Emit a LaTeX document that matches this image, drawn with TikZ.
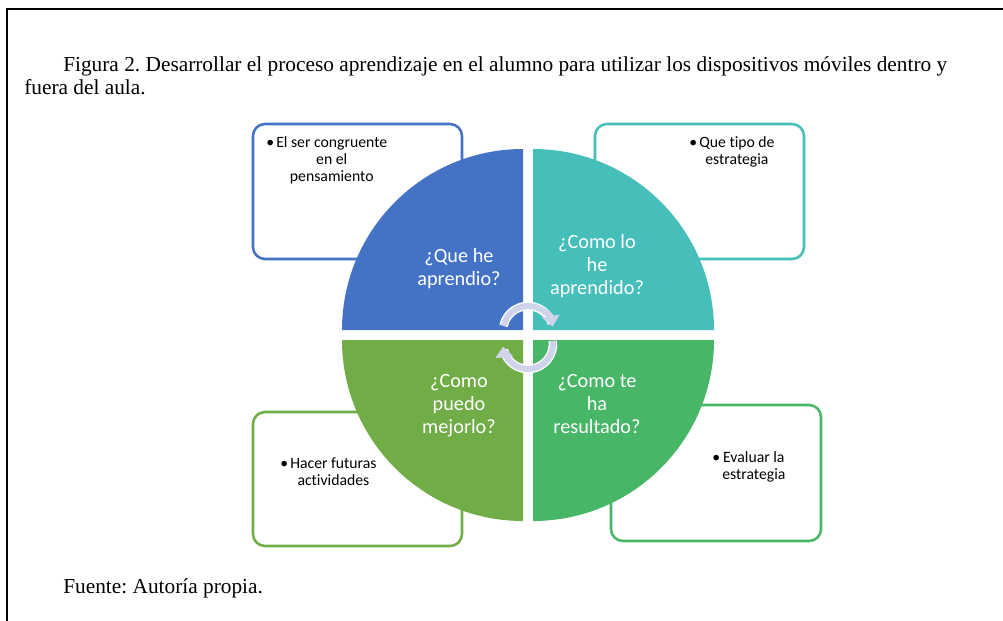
\documentclass[tikz,border=0pt]{standalone}
\usepackage{fontspec}
\setmainfont{Liberation Serif}
\newfontfamily\calfont[Ligatures=NoCommon]{Carlito}
\usetikzlibrary{arrows.meta}

\definecolor{qblue}{HTML}{4472C4}
\definecolor{qteal}{HTML}{46BFBA}
\definecolor{qgreen}{HTML}{70AD47}
\definecolor{qmint}{HTML}{47B666}
\definecolor{cycc}{HTML}{CFD4EA}

\newcommand{\qlines}[1]{\begin{tabular}[t]{@{}c@{}}#1\end{tabular}}
\newcommand{\bul}{\makebox[7.5pt][l]{\textbullet}}

\begin{document}
\frenchspacing
\begin{tikzpicture}[x=0.75pt, y=-0.75pt,
    box/.style={draw, rounded corners=9pt, line width=1.9pt, minimum width=156.75pt, minimum height=101.25pt, inner sep=0pt},
    note/.style={anchor=base west, inner sep=0pt, font=\calfont\fontsize{11.8}{13.1}\selectfont},
    ask/.style={anchor=base, inner sep=0pt, text=white, font=\calfont\fontsize{15.2}{17.6}\selectfont},
    capt/.style={anchor=base west, inner sep=0pt, font=\fontsize{16}{18}\selectfont},
    cyc/.style={line width=4.5pt, color=cycc, -{Triangle[width=13pt,length=8pt]}},
    cycback/.style={line width=6.5pt, white}]
    \useasboundingbox (0,0) rectangle (1003,621);

    % frame
    \draw[line width=1.5pt] (1003,9) -- (7,9) -- (7,621);

    % caption
    \node[capt] (title) at (63,71) {Figura 2. Desarrollar el proceso aprendizaje en el alumno para utilizar los dispositivos móviles dentro y};
    \node[capt] (title2) at (24,94) {fuera del aula.};
    \node[capt] (src) at (63,593) {Fuente: Autoría propia.};

    % side boxes
    \node[box, draw=qblue] (boxQue) at (357.5,191.5) {};
    \node[box, draw=qteal] (boxComo) at (699.5,191.5) {};
    \node[box, draw=qgreen, minimum height=100.5pt] (boxMejor) at (357.5,479) {};
    \node[box, draw=qmint, minimum width=157.5pt, minimum height=102pt] (boxRes) at (716,473) {};

    % quadrants
    \fill[qblue] (523,330) -- ++(-135.75pt,0pt) arc[start angle=180, end angle=90, radius=135.75pt] -- cycle;
    \fill[qteal] (533,330) -- ++(0pt,135.75pt) arc[start angle=90, end angle=0, radius=135.75pt] -- cycle;
    \fill[qmint] (533,340) -- ++(135.75pt,0pt) arc[start angle=0, end angle=-90, radius=135.75pt] -- cycle;
    \fill[qgreen] (523,340) -- ++(0pt,-135.75pt) arc[start angle=-90, end angle=-180, radius=135.75pt] -- cycle;

    % cycle arrows
    \coordinate (ua) at (528,331);
    \coordinate (la) at (528,344);
    \draw[cycback] (ua) ++(168:18.75pt) arc[start angle=168, end angle=18, radius=18.75pt];
    \draw[cyc] (ua) ++(168:18.75pt) arc[start angle=168, end angle=10, radius=18.75pt];
    \draw[cycback] (la) ++(7:18.75pt) arc[start angle=7, end angle=-166, radius=18.75pt];
    \draw[cyc] (la) ++(7:18.75pt) arc[start angle=7, end angle=-174, radius=18.75pt];

    % questions
    \node[ask] (que) at (459,262) {\qlines{¿Que he\\aprendio?}};
    \node[ask] (como) at (597,248) {\qlines{¿Como lo\\he\\aprendido?}};
    \node[ask] (mejor) at (459,387) {\qlines{¿Como\\puedo\\mejorlo?}};
    \node[ask] (res) at (597,387) {\qlines{¿Como te\\ha\\resultado?}};

    % notes
    \node[note] (nQue) at (266,147) {\bul\qlines{El ser congruente\\en el\\pensamiento}};
    \node[note] (nComo) at (689,147) {\bul\qlines{Que tipo de\\estrategia}};
    \node[note] (nMejor) at (280,468) {\bul\qlines{Hacer futuras\\actividades}};
    \node[note] (nRes) at (712,462) {\bul\qlines{Evaluar la\\estrategia}};
\end{tikzpicture}
\end{document}
